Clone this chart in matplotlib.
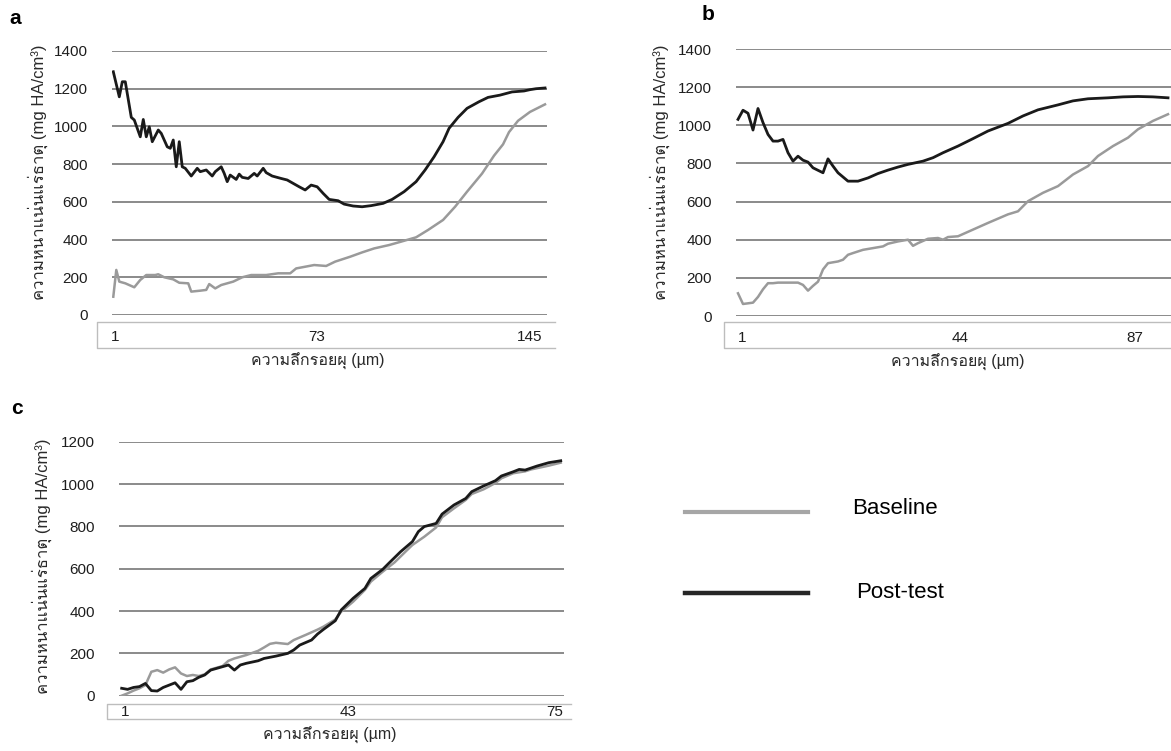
import matplotlib
matplotlib.use("Agg")
import matplotlib.pyplot as plt
from matplotlib import font_manager
from matplotlib.ft2font import FT2Font
from matplotlib.lines import Line2D

# ---- data (depth in µm, density in mg HA/cm3) ----
a_post_depth = [1, 3, 4, 5, 7, 8, 10, 11, 12, 13, 14, 16, 17, 19, 20, 21, 22, 23, 24, 25,
                27, 29, 30, 32, 34, 35, 37, 38, 39, 40, 42, 43, 44, 46, 48, 49, 51, 52, 54, 57,
                59, 61, 63, 65, 67, 69, 71, 73, 76, 78, 81, 84, 87, 91, 94, 98, 102, 105, 108, 111,
                113, 116, 119, 123, 126, 130, 134, 138, 140, 142, 145]
a_post = [1290, 1157, 1237, 1237, 1048, 1034, 945, 1037, 945, 998, 919, 981, 963, 892, 884, 928, 786, 919, 786, 778,
          737, 778, 760, 769, 737, 760, 786, 751, 707, 742, 719, 747, 730, 724, 751, 737, 778, 755, 737, 724,
          716, 698, 680, 663, 689, 680, 645, 613, 606, 588, 578, 574, 580, 592, 613, 654, 707, 769, 839, 919,
          990, 1048, 1096, 1131, 1154, 1166, 1183, 1188, 1195, 1200, 1204]
a_base_depth = [1, 2, 3, 5, 8, 10, 12, 15, 16, 18, 21, 23, 26, 27, 30, 32, 33, 35, 37, 41,
                44, 47, 52, 56, 60, 62, 65, 68, 72, 75, 80, 84, 88, 93, 97, 102, 106, 111, 115, 119,
                124, 128, 131, 133, 136, 140, 145]
a_base = [97, 239, 177, 168, 147, 186, 212, 212, 216, 200, 189, 171, 168, 124, 129, 133, 164, 141, 159, 177,
          200, 212, 212, 221, 221, 247, 256, 265, 260, 283, 309, 332, 353, 371, 389, 412, 451, 504, 574, 654,
          750, 845, 905, 970, 1030, 1077, 1117]

b_post_depth = [1, 2, 3, 4, 5, 6, 7, 8, 9, 10, 11, 12, 13, 14, 15, 16, 18, 19, 20, 21,
                23, 25, 27, 29, 31, 33, 35, 38, 40, 42, 45, 48, 51, 55, 58, 61, 65, 68, 71, 75,
                78, 81, 84, 87]
b_post = [1031, 1079, 1063, 975, 1088, 1014, 952, 917, 917, 926, 856, 812, 838, 817, 807, 777, 751, 824, 786, 751,
          707, 707, 724, 747, 765, 781, 795, 812, 830, 856, 891, 930, 970, 1010, 1049, 1081, 1107, 1128, 1139, 1144,
          1149, 1151, 1149, 1144]
b_base_depth = [1, 2, 4, 5, 6, 7, 8, 9, 11, 13, 14, 15, 16, 17, 18, 19, 21, 22, 23, 24,
                26, 28, 30, 31, 33, 35, 36, 37, 39, 41, 42, 43, 45, 48, 51, 55, 57, 59, 62, 65,
                68, 71, 73, 76, 79, 81, 84, 87]
b_base = [119, 63, 70, 100, 140, 172, 172, 175, 175, 175, 163, 133, 158, 180, 244, 277, 286, 295, 321, 330,
          347, 356, 365, 379, 391, 400, 368, 382, 405, 409, 400, 414, 418, 453, 488, 533, 549, 602, 646, 681,
          742, 786, 839, 891, 935, 979, 1023, 1058]

c_post_depth = [1, 2, 3, 4, 5, 6, 7, 8, 9, 10, 11, 12, 13, 14, 15, 16, 17, 18, 19, 20,
                21, 22, 24, 25, 27, 29, 30, 31, 33, 34, 35, 37, 38, 40, 42, 43, 45, 46, 48, 50,
                51, 52, 54, 55, 57, 59, 60, 62, 64, 65, 67, 68, 69, 71, 73, 75]
c_post = [35, 30, 39, 43, 58, 24, 22, 39, 50, 61, 30, 66, 71, 87, 98, 121, 129, 137, 145, 121,
          145, 153, 165, 176, 187, 200, 216, 239, 263, 291, 313, 354, 405, 460, 507, 554, 597, 625, 680, 728,
          775, 799, 814, 858, 901, 932, 964, 991, 1016, 1038, 1058, 1069, 1066, 1085, 1101, 1110]
c_base_depth = [1, 2, 3, 4, 5, 6, 7, 8, 9, 10, 11, 12, 13, 14, 15, 16, 18, 19, 20, 22,
                24, 25, 26, 27, 29, 30, 32, 34, 35, 37, 38, 40, 42, 43, 45, 47, 49, 50, 52, 54,
                55, 57, 59, 60, 62, 64, 65, 67, 69, 70, 73, 75]
c_base = [0, 11, 24, 35, 50, 113, 121, 109, 124, 134, 105, 93, 98, 93, 101, 124, 140, 165, 176, 192,
          212, 228, 245, 250, 244, 263, 287, 312, 326, 360, 397, 444, 500, 539, 586, 630, 685, 712, 751, 795,
          843, 885, 925, 953, 975, 1005, 1027, 1051, 1060, 1069, 1087, 1101]

a_ticks = ["1", "73", "145"]
b_ticks = ["1", "44", "87"]
c_ticks = ["1", "43", "75"]
series_names = ["Baseline", "Post-test"]
ylab = "ความหนาแน่นแร่ธาตุ (mg HA/cm³)"
xlab = "ความลึกรอยผุ (µm)"

# pick up any installed font that can draw Thai
thai_font = None
for f in font_manager.fontManager.ttflist:
    try:
        if 0x0E01 in FT2Font(f.fname).get_charmap():
            thai_font = f.name
            break
    except Exception:
        pass
fams = ["Liberation Sans"] + ([thai_font] if thai_font else []) + ["DejaVu Sans"]
plt.rcParams["font.family"] = fams

W, H = 1171, 751
fig = plt.figure(figsize=(W / 100, H / 100), dpi=100)

BASE_C = "#9a9a9a"
POST_C = "#1a1a1a"


def fline(xs, ys, **kw):
    fig.add_artist(Line2D([x / W for x in xs], [1 - y / H for y in ys], **kw))


def panel(l, r, t, b, n, ymax, depth_b, base, depth_p, post, ticks, tick_pos, xpad,
          box, letter, letter_xy, ylab_xy, xlab_xy):
    ax = fig.add_axes([l / W, 1 - b / H, (r - l) / W, (b - t) / H])
    ax.plot(depth_b, base, color=BASE_C, lw=1.8)
    ax.plot(depth_p, post, color=POST_C, lw=2.0)
    ax.set_xlim(0.5, n + 0.5)
    ax.set_ylim(0, ymax)
    ax.set_yticks(range(0, ymax + 1, 200))
    ax.set_xticks(tick_pos, ticks)
    ax.grid(axis="y", color="#8a8a8a", lw=1.4)
    ax.set_axisbelow(True)
    for s in ax.spines.values():
        s.set_visible(False)
    ax.tick_params(axis="y", length=0, labelsize=11, pad=17, labelcolor="#1e1e1e")
    ax.tick_params(axis="x", length=0, labelsize=11, pad=xpad, labelcolor="#1e1e1e")
    bl, bt, bb, br = box
    fline([br, bl, bl, br], [bt, bt, bb, bb], color="#bdbdbd", lw=1)
    fig.text(letter_xy[0] / W, 1 - letter_xy[1] / H, letter, fontsize=15,
             fontweight="bold", ha="center", va="center")
    fig.text(ylab_xy[0] / W, 1 - ylab_xy[1] / H, ylab, rotation=90, fontsize=12,
             ha="center", va="center", color="#2a2a2a")
    fig.text(xlab_xy[0] / W, 1 - xlab_xy[1] / H, xlab, fontsize=11.5,
             ha="center", va="center", color="#2a2a2a")
    return ax


panel(111.8, 546.5, 51, 315, 145, 1400, a_base_depth, a_base, a_post_depth, a_post,
      a_ticks, [1.6, 69, 140], 11, (97, 322, 348, 555), "a", (15, 19), (38, 172), (318, 361))
panel(735.5, 1170.5, 49, 316, 87, 1400, b_base_depth, b_base, b_post_depth, b_post,
      b_ticks, [1.8, 45.4, 80.4], 11, (724, 322, 348, 1171), "b", (708, 15), (660, 172), (958, 362))
panel(118.7, 563.7, 441.7, 695.7, 75, 1200, c_base_depth, c_base, c_post_depth, c_post,
      c_ticks, [1.6, 39.2, 74], 7, (107, 704, 719, 571), "c", (17, 409), (42, 566), (330, 735))

# legend drawn by hand, as in the original
fline([685, 808], [512, 512], color="#a6a6a6", lw=3)
fline([685, 808], [593, 593], color="#262626", lw=3.2)
fig.text(852 / W, 1 - 508 / H, series_names[0], fontsize=16, va="center")
fig.text(856 / W, 1 - 592 / H, series_names[1], fontsize=16, va="center")

fig.savefig("out.png", dpi=100)
